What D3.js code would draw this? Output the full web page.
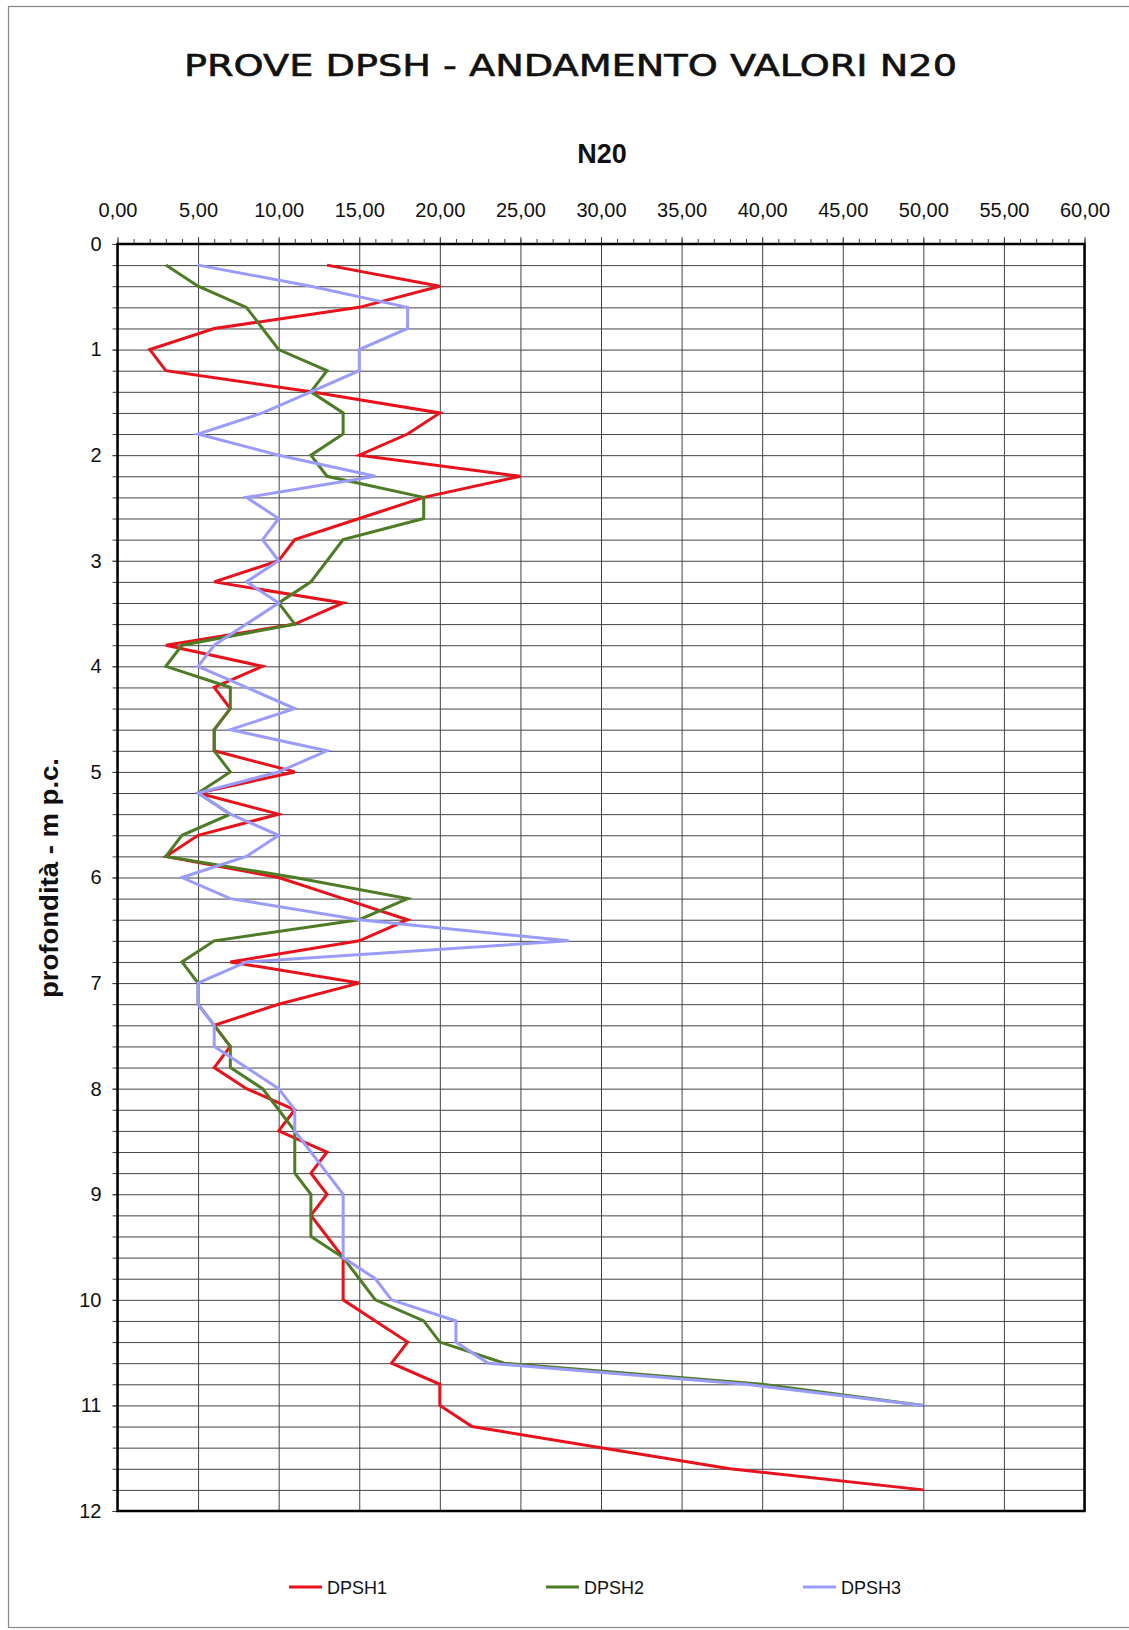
<!DOCTYPE html>
<html>
<head>
<meta charset="utf-8">
<script src="https://cdnjs.cloudflare.com/ajax/libs/d3/7.8.5/d3.min.js"></script>
<style>
  body { margin: 0; background: #fff; }
  svg { display: block; }
  .tick text { font-family: "Liberation Sans", Arial, sans-serif; font-size: 20px; fill: #111; }
  .grid line { stroke: #444; stroke-width: 1; }
  .grid .domain { display: none; }
</style>
</head>
<body>
<svg width="1129" height="1630"></svg>
<script>
// depth levels (m) for each reading
const depths1 = [0.2, 0.4, 0.6, 0.8, 1.0, 1.2, 1.4, 1.6, 1.8, 2.0,
  2.2, 2.4, 2.6, 2.8, 3.0, 3.2, 3.4, 3.6, 3.8, 4.0,
  4.2, 4.4, 4.6, 4.8, 5.0, 5.2, 5.4, 5.6, 5.8, 6.0,
  6.2, 6.4, 6.6, 6.8, 7.0, 7.2, 7.4, 7.6, 7.8, 8.0,
  8.2, 8.4, 8.6, 8.8, 9.0, 9.2, 9.4, 9.6, 9.8, 10.0,
  10.2, 10.4, 10.6, 10.8, 11.0, 11.2, 11.4, 11.6, 11.8];
const depths23 = [0.2, 0.4, 0.6, 0.8, 1.0, 1.2, 1.4, 1.6, 1.8, 2.0,
  2.2, 2.4, 2.6, 2.8, 3.0, 3.2, 3.4, 3.6, 3.8, 4.0,
  4.2, 4.4, 4.6, 4.8, 5.0, 5.2, 5.4, 5.6, 5.8, 6.0,
  6.2, 6.4, 6.6, 6.8, 7.0, 7.2, 7.4, 7.6, 7.8, 8.0,
  8.2, 8.4, 8.6, 8.8, 9.0, 9.2, 9.4, 9.6, 9.8, 10.0,
  10.2, 10.4, 10.6, 10.8, 11.0];

// N20 blow counts
const dpsh1 = [13, 20, 15, 6, 2, 3, 12, 20, 18, 15,
  25, 19, 15, 11, 10, 6, 14, 11, 3, 9,
  6, 7, 6, 6, 11, 5, 10, 5, 3, 10,
  14, 18, 15, 7, 15, 10, 6, 7, 6, 8,
  11, 10, 13, 12, 13, 12, 13, 14, 14, 14,
  16, 18, 17, 20, 20, 22, 30, 38, 50];
const dpsh2 = [3, 5, 8, 9, 10, 13, 12, 14, 14, 12,
  13, 19, 19, 14, 13, 12, 10, 11, 4, 3,
  7, 7, 6, 6, 7, 5, 7, 4, 3, 11,
  18, 15, 6, 4, 5, 5, 6, 7, 7, 9,
  10, 11, 11, 11, 12, 12, 12, 14, 15, 16,
  19, 20, 24, 40, 50];
const dpsh3 = [5, 12, 18, 18, 15, 15, 12, 9, 5, 10,
  16, 8, 10, 9, 10, 8, 10, 8, 6, 5,
  8, 11, 7, 13, 10, 5, 7, 10, 8, 4,
  7, 15, 28, 8, 5, 5, 6, 6, 8, 10,
  11, 11, 12, 13, 14, 14, 14, 14, 16, 17,
  21, 21, 23, 39, 50];

const seriesNames = ['DPSH1', 'DPSH2', 'DPSH3'];
const xTicks = [0, 5, 10, 15, 20, 25, 30, 35, 40, 45, 50, 55, 60];
const yTicks = [0, 1, 2, 3, 4, 5, 6, 7, 8, 9, 10, 11, 12];

const svg = d3.select('svg');
const width = +svg.attr('width');
const height = +svg.attr('height');

const colors = ['#e8121c', '#4e7b25', '#9b9bfb'];

// outer frame (right side runs off the page)
svg.append('rect')
  .attr('x', 8.5).attr('y', 6.5)
  .attr('width', 1140).attr('height', 1621)
  .attr('fill', 'none').attr('stroke', '#888').attr('stroke-width', 1.2);

const margin = { top: 244, left: 117.5, right: 44.5, bottom: 119 };
const innerWidth = width - margin.left - margin.right;
const innerHeight = height - margin.top - margin.bottom;

const g = svg.append('g')
  .attr('transform', `translate(${margin.left},${margin.top})`);

const xScale = d3.scaleLinear().domain([0, 60]).range([0, innerWidth]);
const yScale = d3.scaleLinear().domain([0, 12]).range([0, innerHeight]);

// grids
g.append('g').attr('class', 'grid')
  .call(d3.axisTop(xScale).tickValues(xTicks).tickSize(-innerHeight).tickFormat(''));
g.append('g').attr('class', 'grid')
  .call(d3.axisLeft(yScale).ticks(60).tickSize(-innerWidth).tickFormat(''));

// minor ticks outside the frame
g.append('g').attr('class', 'grid')
  .call(d3.axisTop(xScale).ticks(60).tickSize(5).tickFormat(''));
g.append('g').attr('class', 'grid')
  .call(d3.axisLeft(yScale).ticks(60).tickSize(5).tickFormat(''));
g.selectAll('.grid text').remove();

// labelled axes
const fmt = d => d3.format('.2f')(d).replace('.', ',');
const xAxisG = g.append('g')
  .call(d3.axisTop(xScale).tickValues(xTicks).tickSize(7).tickPadding(20).tickFormat(fmt));
xAxisG.selectAll('.domain').remove();
xAxisG.selectAll('.tick line').attr('stroke', '#444');

const yAxisG = g.append('g')
  .call(d3.axisLeft(yScale).tickValues(yTicks).tickSize(5).tickPadding(11));
yAxisG.selectAll('.domain').remove();
yAxisG.selectAll('.tick line').attr('stroke', '#444');

// plot frame
g.append('rect')
  .attr('width', innerWidth).attr('height', innerHeight)
  .attr('fill', 'none').attr('stroke', '#000').attr('stroke-width', 2.5);

// series lines
const series = [
  { name: seriesNames[0], depths: depths1, values: dpsh1 },
  { name: seriesNames[1], depths: depths23, values: dpsh2 },
  { name: seriesNames[2], depths: depths23, values: dpsh3 }
];

const line = d3.line()
  .x(d => xScale(d[1]))
  .y(d => yScale(d[0]));

series.forEach((s, i) => {
  g.append('path')
    .datum(d3.zip(s.depths, s.values))
    .attr('fill', 'none')
    .attr('stroke', colors[i])
    .attr('stroke-width', 3)
    .attr('stroke-linejoin', 'miter')
    .attr('d', line);
});

// titles
svg.append('text')
  .attr('x', 184).attr('y', 76)
  .attr('textLength', 773).attr('lengthAdjust', 'spacingAndGlyphs')
  .style('font-family', '"DejaVu Sans", sans-serif')
  .style('font-size', '30px')
  .attr('fill', '#111')
  .attr('stroke', '#111').attr('stroke-width', 0.6)
  .text('PROVE DPSH - ANDAMENTO VALORI N20');

svg.append('text')
  .attr('x', 602).attr('y', 163)
  .attr('text-anchor', 'middle')
  .style('font-family', '"Liberation Sans", Arial, sans-serif')
  .style('font-weight', 'bold')
  .style('font-size', '27px')
  .attr('fill', '#111')
  .text('N20');

svg.append('text')
  .attr('transform', 'translate(58,878) rotate(-90)')
  .attr('text-anchor', 'middle')
  .attr('textLength', 240).attr('lengthAdjust', 'spacingAndGlyphs')
  .style('font-family', '"Liberation Sans", Arial, sans-serif')
  .style('font-weight', 'bold')
  .style('font-size', '26px')
  .attr('fill', '#111')
  .text('profondità - m p.c.');

// legend
const legendX = [289, 546, 803];
const legend = svg.append('g').attr('transform', 'translate(0,1587)');
series.forEach((s, i) => {
  legend.append('line')
    .attr('x1', legendX[i]).attr('x2', legendX[i] + 33)
    .attr('stroke', colors[i]).attr('stroke-width', 3);
  legend.append('text')
    .attr('x', legendX[i] + 38).attr('y', 7)
    .style('font-family', '"Liberation Sans", Arial, sans-serif')
    .style('font-size', '18px')
    .attr('fill', '#111')
    .text(s.name);
});
</script>
</body>
</html>
